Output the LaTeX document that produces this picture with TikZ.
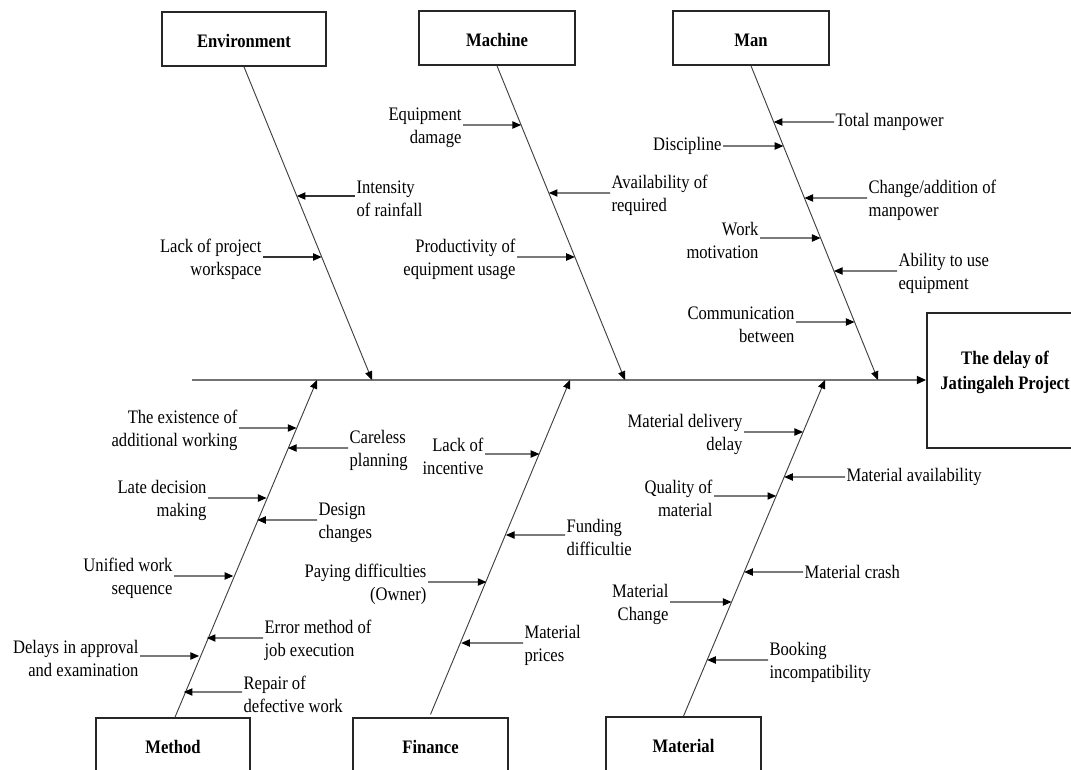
\documentclass[tikz,border=0pt]{standalone}
\usepackage{fontspec}
\setmainfont[FakeStretch=0.87]{Liberation Serif}
\usetikzlibrary{arrows.meta,calc}
\begin{document}
\begin{tikzpicture}[x=0.75pt,y=-0.75pt,
  lab/.style={inner sep=1pt,font=\fontsize{14.3}{17.25}\selectfont},
  bfl/.style={inner sep=1pt,font=\fontsize{14.3}{17.25}\selectfont\bfseries},
  catbox/.style={draw=black!85,line width=1.3pt,inner sep=0pt},
  tip/.style={-{Triangle[length=6.5pt,width=5.5pt,color=black]}},
  bone/.style={draw=black!75,line width=0.7pt,tip},
  spine/.style={draw=black!55,line width=1.4pt,-{Triangle[length=7pt,width=6pt,color=black]}},
  arr/.style={draw=black!80,line width=0.8pt,tip}]
\useasboundingbox (0,0) rectangle (1071,770);
\clip (0,0) rectangle (1071,770);

% category boxes
\node[catbox,minimum width=123pt,minimum height=40.5pt] (env) at (244,39) {};
\node[bfl] (envt) at (244,41) {Environment};
\node[catbox,minimum width=117pt,minimum height=40.5pt] (mac) at (497,38) {};
\node[bfl] (mact) at (497,40) {Machine};
\node[catbox,minimum width=117pt,minimum height=40.5pt] (man) at (751,38) {};
\node[bfl] (mant) at (751,40) {Man};
\node[catbox,minimum width=115.5pt,minimum height=60pt] (met) at (173,758) {};
\node[bfl] (mett) at (173,747) {Method};
\node[catbox,minimum width=116.25pt,minimum height=60pt] (fin) at (430.5,758) {};
\node[bfl] (fint) at (430.5,747) {Finance};
\node[catbox,minimum width=116.25pt,minimum height=60pt] (mat) at (683.5,757) {};
\node[bfl] (matt) at (683.5,746) {Material};

% result box
\node[catbox,minimum width=120pt,minimum height=101.25pt] (res) at (1007,380.5) {};
\node[bfl,align=center,font=\fontsize{14.3}{18.75}\selectfont\bfseries] (rest) at (1005,372) {The delay of\\Jatingaleh Project};

% spine
\coordinate (s0) at (192,380);
\draw[spine] (s0) -- (s0 -| res.west);

% bone end points on spine
\coordinate (envE) at (372,380);
\coordinate (macE) at (625,380);
\coordinate (manE) at (878,380);
\coordinate (metE) at (317,380);
\coordinate (finE) at (570,380);
\coordinate (matE) at (825,380);
\draw[bone] (env.south) -- (envE);
\draw[bone] (mac.south) -- (macE);
\draw[bone] (man.south) -- (manE);
\draw[bone] ([xshift=1.5]met.north) -- (metE);
\draw[bone] ([yshift=2]fin.north) -- (finE);
\draw[bone] (mat.north) -- (matE);

% sub causes: two-line labels sit slightly below their arrow
\newcommand\cause[6]{%
  \node[lab,anchor=#4,align=#5] (#1) at ([yshift=-1.9pt]#3) {#6};
  \coordinate (#1a) at ([yshift=1.9pt]#1.#4);
  \coordinate (#1h) at ([xshift=#2]#1a);
}
\newcommand\causeone[6]{%
  \node[lab,anchor=#4,align=#5] (#1) at (#3) {#6};
  \coordinate (#1a) at (#1.#4);
  \coordinate (#1h) at ([xshift=#2]#1a);
}
\newcommand\causeline[2]{%
  \draw[arr] (#1a) -- (intersection of #2 and #1a--#1h);
}

% Environment
\cause{e1}{-10}{355,196}{west}{left}{Intensity\\of rainfall}
\causeline{e1}{env.south--envE}
\cause{e2}{10}{263,257}{east}{right}{Lack of project\\workspace}
\causeline{e2}{env.south--envE}

% Machine
\cause{m1}{10}{463,125}{east}{right}{Equipment\\damage}
\causeline{m1}{mac.south--macE}
\cause{m2}{-10}{610,193}{west}{left}{Availability of\\required}
\causeline{m2}{mac.south--macE}
\cause{m3}{10}{517,257}{east}{right}{Productivity of\\equipment usage}
\causeline{m3}{mac.south--macE}

% Man
\causeone{n1}{-10}{834,122}{west}{left}{Total manpower}
\causeline{n1}{man.south--manE}
\causeone{n2}{10}{723,146}{east}{right}{Discipline}
\causeline{n2}{man.south--manE}
\cause{n3}{-10}{867,198}{west}{left}{Change/addition of\\manpower}
\causeline{n3}{man.south--manE}
\cause{n4}{10}{760,238}{east}{right}{Work\\motivation}
\causeline{n4}{man.south--manE}
\cause{n5}{-10}{897,271}{west}{left}{Ability to use\\equipment}
\causeline{n5}{man.south--manE}
\cause{n6}{10}{796,322}{east}{right}{Communication\\between}
\causeline{n6}{man.south--manE}

% Method
\cause{d1}{10}{239,428}{east}{right}{The existence of\\additional working}
\causeline{d1}{met.north--metE}
\cause{d2}{-10}{348,448}{west}{left}{Careless\\planning}
\causeline{d2}{met.north--metE}
\cause{d3}{10}{208,498}{east}{right}{Late decision\\making}
\causeline{d3}{met.north--metE}
\cause{d4}{-10}{317,520}{west}{left}{Design\\changes}
\causeline{d4}{met.north--metE}
\cause{d5}{10}{174,576}{east}{right}{Unified work\\sequence}
\causeline{d5}{met.north--metE}
\cause{d6}{-10}{263,638}{west}{left}{Error method of\\job execution}
\causeline{d6}{met.north--metE}
\cause{d7}{10}{140,656}{east}{right}{Delays in approval\\and examination}
\causeline{d7}{met.north--metE}
\cause{d8}{-10}{242,692}{west}{left}{Repair of\\defective work}
\causeline{d8}{met.north--metE}

% Finance
\cause{f1}{10}{485,454}{east}{right}{Lack of\\incentive}
\causeline{f1}{fin.north--finE}
\cause{f2}{-10}{565,535}{west}{left}{Funding\\difficultie}
\causeline{f2}{fin.north--finE}
\cause{f3}{10}{428,582}{east}{right}{Paying difficulties\\(Owner)}
\causeline{f3}{fin.north--finE}
\cause{f4}{-10}{523,643}{west}{left}{Material\\prices}
\causeline{f4}{fin.north--finE}

% Material
\cause{a1}{10}{744,432}{east}{right}{Material delivery\\delay}
\causeline{a1}{mat.north--matE}
\causeone{a2}{-10}{845,477}{west}{left}{Material availability}
\causeline{a2}{mat.north--matE}
\cause{a3}{10}{714,496}{east}{right}{Quality of\\material}
\causeline{a3}{mat.north--matE}
\causeone{a4}{-10}{803,572}{west}{left}{Material crash}
\causeline{a4}{mat.north--matE}
\cause{a5}{10}{670,602}{east}{right}{Material\\Change}
\causeline{a5}{mat.north--matE}
\cause{a6}{-10}{768,660}{west}{left}{Booking\\incompatibility}
\causeline{a6}{mat.north--matE}
\end{tikzpicture}
\end{document}
